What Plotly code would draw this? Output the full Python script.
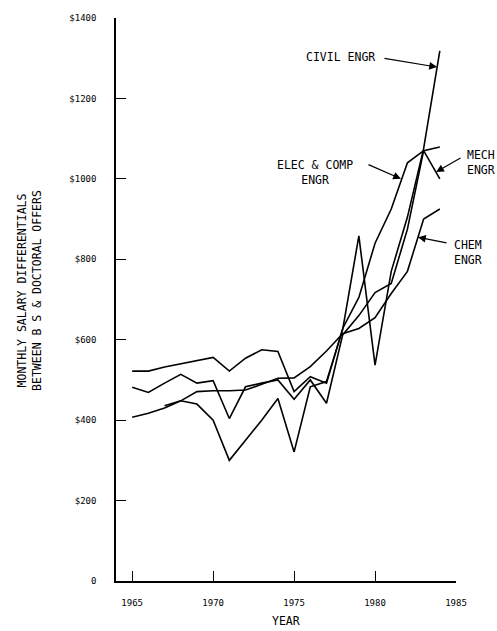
import plotly.graph_objects as go

# ---- data ----
YEARS = list(range(1965, 1985))
ELEC_COMP = [522, 522, 532, 540, 548, 556, 522, 554, 575, 571, 471, 508, 492, 628, 705, 840, 925, 1040, 1070, 1079]
MECH = [482, 469, 492, 514, 492, 498, 404, 483, 492, 500, 452, 500, 442, 612, 660, 717, 740, 875, 1070, 1000]
CIVIL = [None, None, 436, 448, 440, 400, 300, 350, 400, 454, 321, 483, 496, 625, 858, 537, 770, 905, 1075, 1318]
CHEM = [407, 417, 430, 448, 471, 473, 473, 475, 489, 504, 505, 533, 572, 615, 628, 655, 715, 770, 900, 925]

Y_TICKS = [0, 200, 400, 600, 800, 1000, 1200, 1400]
Y_TICK_LABELS = ["0", "$200", "$400", "$600", "$800", "$1000", "$1200", "$1400"]
X_TICKS = [1965, 1970, 1975, 1980, 1985]
X_TICK_LABELS = ["1965", "1970", "1975", "1980", "1985"]

FONT = "DejaVu Sans Mono, Liberation Mono, monospace"
LABEL_FONT = dict(family=FONT, size=11.5, color="black")

fig = go.Figure()
for name, vals in [("ELEC & COMP ENGR", ELEC_COMP), ("MECH ENGR", MECH),
                   ("CIVIL ENGR", CIVIL), ("CHEM ENGR", CHEM)]:
    fig.add_trace(go.Scatter(x=YEARS, y=vals, mode="lines", name=name,
                             line=dict(color="black", width=1.6),
                             connectgaps=False, showlegend=False))

# series labels: text position in paper coords, arrow tail/head in data coords
labels = [
    ("CIVIL ENGR", (0.659, 0.930), (1980.49, 1300), (1983.83, 1278)),
    ("ELEC & COMP<br>ENGR", (0.585, 0.726), (1979.50, 1037), (1981.60, 1000)),
    ("MECH<br>ENGR", (1.074, 0.744), (1985.37, 1054), (1983.77, 1017)),
    ("CHEM<br>ENGR", (1.035, 0.584), (1984.51, 840), (1982.65, 855)),
]
for text, tpos, tail, head in labels:
    fig.add_annotation(x=tpos[0], y=tpos[1], xref="paper", yref="paper", text=text,
                       showarrow=False, font=LABEL_FONT, align="center",
                       xanchor="center", yanchor="middle")
    fig.add_annotation(x=head[0], y=head[1], ax=tail[0], ay=tail[1],
                       xref="x", yref="y", axref="x", ayref="y", text="",
                       showarrow=True, arrowhead=2, arrowsize=1.3, arrowwidth=1.2,
                       arrowcolor="black")

# axis titles
fig.add_annotation(x=-0.253, y=0.517, xref="paper", yref="paper",
                   text="MONTHLY SALARY DIFFERENTIALS<br>BETWEEN B S & DOCTORAL OFFERS",
                   textangle=-90, showarrow=False, xanchor="center", yanchor="middle",
                   font=dict(family=FONT, size=11.5, color="black"))
fig.add_annotation(x=0.5, y=-0.071, xref="paper", yref="paper", text="YEAR",
                   showarrow=False, xanchor="center", yanchor="middle",
                   font=dict(family=FONT, size=11.5, color="black"))

fig.update_layout(
    width=497, height=631,
    margin=dict(l=116, r=41, t=18, b=50),
    paper_bgcolor="white", plot_bgcolor="white",
    font=dict(family=FONT, size=9, color="black"),
)
fig.update_xaxes(range=[1964, 1985], tickvals=X_TICKS, ticktext=X_TICK_LABELS,
                 ticks="inside", ticklen=10, tickwidth=1.3, tickcolor="black",
                 showline=True, linecolor="black", linewidth=1.5,
                 showgrid=False, zeroline=False, mirror=False,
                 ticklabelstandoff=12)
fig.update_yaxes(range=[0, 1400], tickvals=Y_TICKS, ticktext=Y_TICK_LABELS,
                 ticks="inside", ticklen=10, tickwidth=1.3, tickcolor="black",
                 showline=True, linecolor="black", linewidth=1.5,
                 showgrid=False, zeroline=False, mirror=False,
                 ticklabelstandoff=16)

# remove the default page margin so the 497x631 figure fills the window exactly
fig.write_html("out.html",
               config={"displayModeBar": False},
               post_script="document.body.style.margin='0px';"
                           "document.body.style.overflow='hidden';")
